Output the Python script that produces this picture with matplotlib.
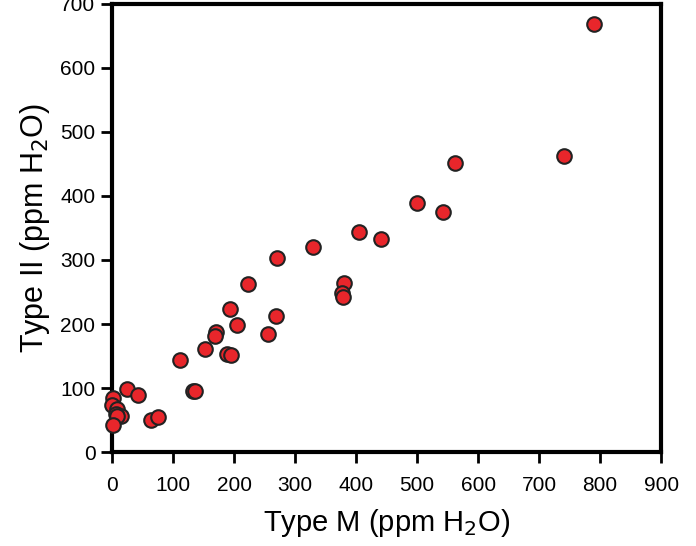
import matplotlib
matplotlib.use("Agg")
import matplotlib.pyplot as plt

plt.rcParams['font.family'] = ['Liberation Sans', 'DejaVu Sans']

# Type M vs Type II water contents (ppm H2O)
type_m = [790, 740, 562, 500, 542, 405, 440, 330, 270, 222,
          380, 377, 378, 193, 269, 205, 171, 168, 256, 152,
          189, 195, 112, 132, 136, 24, 43, 2, 0, 8,
          14, 6, 8, 1, 64, 75]
type_ii = [668, 463, 452, 389, 375, 344, 333, 320, 303, 262,
           264, 249, 242, 223, 213, 198, 187, 181, 185, 161,
           153, 151, 144, 95, 95, 99, 89, 85, 73, 67,
           56, 60, 57, 43, 50, 55]

fig = plt.figure(figsize=(6.96, 5.46), dpi=100)
ax = fig.add_axes([0.161, 0.172, 0.789, 0.821])

ax.scatter(type_m, type_ii, s=110, color='#e8262b', edgecolors='#222222',
           linewidths=1.5, zorder=3, clip_on=False)

ax.set_xlim(0, 900)
ax.set_ylim(0, 700)
ax.set_xticks(range(0, 901, 100))
ax.set_yticks(range(0, 701, 100))

for sp in ax.spines.values():
    sp.set_linewidth(3)
ax.tick_params(direction='out', length=8, width=2, labelsize=15)
ax.tick_params(axis='x', pad=9)
ax.tick_params(axis='y', pad=4)

ax.set_xlabel('Type M (ppm H$_2$O)', fontsize=21, labelpad=9)
ax.set_ylabel('Type II (ppm H$_2$O)', fontsize=22, labelpad=6)

fig.savefig('out.png', dpi=100)
